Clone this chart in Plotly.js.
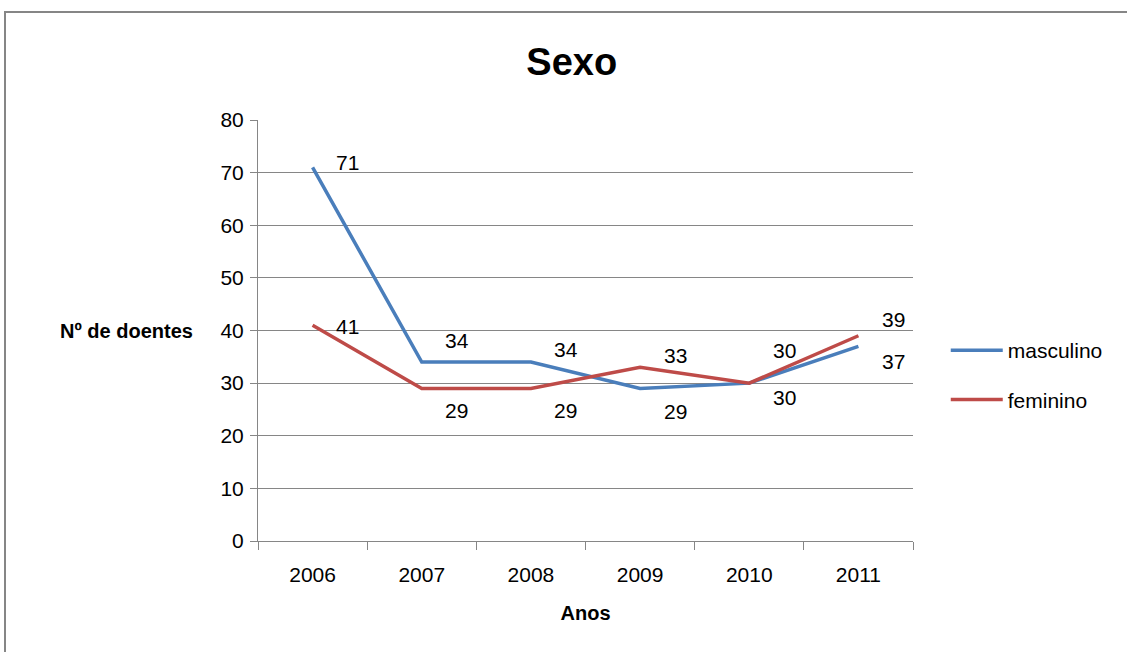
<!DOCTYPE html>
<html><head><meta charset="utf-8">
<script src="https://cdn.plot.ly/plotly-3.0.1.min.js"></script>
<style>
html,body{margin:0;padding:0;background:#fff;overflow:hidden}
#frame{position:absolute;left:4px;top:11px;width:1200px;height:700px;border-left:2px solid #868686;border-top:2px solid #868686}
#chart{position:absolute;left:0;top:0;width:1127px;height:652px}
</style></head>
<body>
<div id="frame"></div>
<div id="chart"></div>
<script>
const years = ['2006','2007','2008','2009','2010','2011'];
const masculino = [71, 34, 34, 29, 30, 37];
const feminino = [41, 29, 29, 33, 30, 39];
const yTicks = [0,10,20,30,40,50,60,70,80];
const mascShift = [5, 22, 13, -23, -14, -15];
const femShift = [-1, -22, -22, 12, 33, 16];

const idx = years.map((_, i) => i);
const font = 'Liberation Sans, Arial, sans-serif';
const traces = [
  {x: idx, y: masculino, name: 'masculino', type: 'scatter', mode: 'lines', legendgroup: 'm',
   line: {color: '#4a7ebb', width: 3.5}},
  {x: idx, y: feminino, name: 'feminino', type: 'scatter', mode: 'lines', legendgroup: 'f',
   line: {color: '#be4b48', width: 3.5}}
];
const annotations = [];
idx.forEach(i => {
  annotations.push({x: i, y: masculino[i], text: String(masculino[i]), showarrow: false,
    xshift: 35, yshift: mascShift[i], font: {family: font, size: 21, color: '#000'}});
  annotations.push({x: i, y: feminino[i], text: String(feminino[i]), showarrow: false,
    xshift: 35, yshift: femShift[i], font: {family: font, size: 21, color: '#000'}});
});
annotations.push({xref: 'paper', yref: 'paper', x: -0.096, y: 0.5, xanchor: 'right', yanchor: 'middle',
  text: '<b>Nº de doentes</b>', showarrow: false, font: {family: font, size: 20, color: '#000'}});

const layout = {
  width: 1127, height: 652,
  paper_bgcolor: 'rgba(0,0,0,0)', plot_bgcolor: '#fff',
  margin: {l: 258, r: 214, t: 120, b: 111},
  title: {text: '<b>Sexo</b>', x: 0.479, xref: 'paper', y: 0.905, yanchor: 'middle',
    font: {family: font, size: 38, color: '#000'}},
  xaxis: {range: [-0.5, 5.5], tickvals: idx, ticktext: years, ticks: '',
    minor: {tick0: -0.5, dtick: 1, ticks: 'outside', ticklen: 8, tickcolor: '#868686', showgrid: false},
    showline: true, linecolor: '#868686', linewidth: 1, showgrid: false, zeroline: false,
    tickfont: {family: font, size: 21, color: '#000'}, ticklabelstandoff: 15,
    title: {text: '<b>Anos</b>', font: {family: font, size: 20, color: '#000'}, standoff: 20}},
  yaxis: {range: [0, 80], tickvals: yTicks, ticks: 'outside', ticklen: 7, tickcolor: '#868686',
    showline: true, linecolor: '#868686', linewidth: 1, gridcolor: '#868686', gridwidth: 1,
    zeroline: false, tickfont: {family: font, size: 21, color: '#000'}, ticklabelstandoff: 2},
  legend: {x: 1.05, xanchor: 'left', y: 0.394, yanchor: 'middle', tracegroupgap: 19,
    font: {family: font, size: 21, color: '#000'}, itemwidth: 52, bgcolor: 'rgba(0,0,0,0)'},
  showlegend: true,
  annotations: annotations
};
Plotly.newPlot('chart', traces, layout, {displayModeBar: false, staticPlot: true});
</script>
</body></html>
